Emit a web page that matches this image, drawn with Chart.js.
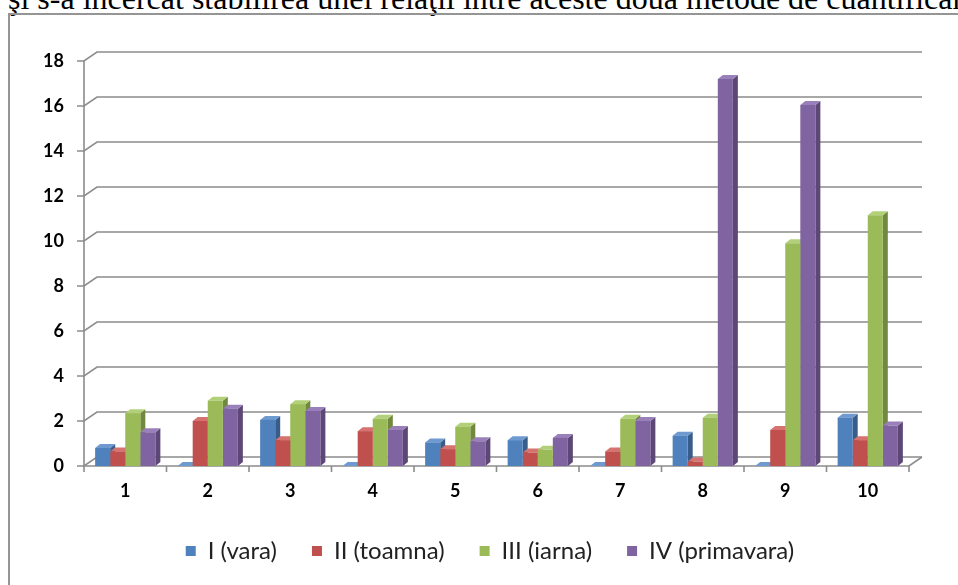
<!DOCTYPE html>
<html>
<head>
<meta charset="utf-8">
<script src="https://cdn.jsdelivr.net/npm/chart.js@4"></script>
<style>
    html, body { margin: 0; padding: 0; background: #fff; overflow: hidden; }
    body { width: 958px; height: 585px; position: relative; }
    #textSus {
        position: absolute; left: 8px; top: -18px; white-space: nowrap;
        font-family: "Liberation Serif", "Times New Roman", serif; font-size: 32px; line-height: 32px; color: #000;
    }
    #cadru {
        position: absolute; left: 8px; top: 13px; width: 1000px; height: 620px;
        border-left: 2px solid #959595; border-top: 2px solid #959595;
    }
    #graficBox { position: absolute; left: 0; top: 0; width: 958px; height: 585px; }
</style>
</head>
<body>
<div id="textSus">şi s-a încercat stabilirea unei relaţii între aceste două metode de cuantificare</div>
<div id="cadru"></div>
<div id="graficBox"><canvas id="graficAnotimpuri" width="958" height="585"></canvas></div>

<script>
    // date
    var categorii = ['1', '2', '3', '4', '5', '6', '7', '8', '9', '10'];
    var numeSerii = ['I (vara)', 'II (toamna)', 'III (iarna)', 'IV (primavara)'];
    var vara = [0.8, 0, 2.05, 0, 1.05, 1.15, 0, 1.35, 0, 2.15];
    var toamna = [0.65, 2.0, 1.15, 1.55, 0.75, 0.6, 0.65, 0.2, 1.6, 1.15];
    var iarna = [2.35, 2.9, 2.75, 2.1, 1.75, 0.72, 2.1, 2.15, 9.9, 11.15];
    var primavara = [1.5, 2.55, 2.45, 1.6, 1.1, 1.25, 2.0, 17.2, 16.05, 1.8];
    var tickuriY = [0, 2, 4, 6, 8, 10, 12, 14, 16, 18];

    var culori = ['#4F81BD', '#C0504D', '#9BBB59', '#8064A2'];
    var culoriLaterale = ['#385D8A', '#8C3836', '#71893F', '#5C4776'];
    var culoriSus = ['#6E9AD0', '#D6726F', '#B2D07A', '#9A80BA'];

    // adancimea 3D
    const perete = { dx: 13, dy: 9 };
    const bara = { dx: 5, dy: 4 };
    const culoareGrila = '#8c8c8c';

    const efect3d = {
        id: 'efect3d',
        afterLayout(chart) {
            // legenda e centrata pe cadru, nu pe canvas
            chart.legend.left = 22;
            chart.legend.right = 958;
        },
        beforeDatasetsDraw(chart) {
            const ctx = chart.ctx;
            const area = chart.chartArea;
            const scalaY = chart.scales.y;
            ctx.save();
            ctx.strokeStyle = culoareGrila;
            ctx.lineWidth = 1.6;

            // grila pe peretele din spate
            tickuriY.forEach(function (v) {
                var y = scalaY.getPixelForValue(v);
                ctx.beginPath();
                ctx.moveTo(area.left - 7, y);
                ctx.lineTo(area.left, y);
                ctx.lineTo(area.left + perete.dx, y - perete.dy);
                ctx.lineTo(area.right + perete.dx, y - perete.dy);
                ctx.stroke();
            });

            // axa verticala si podeaua
            ctx.beginPath();
            ctx.moveTo(area.left, area.top);
            ctx.lineTo(area.left, area.bottom);
            ctx.lineTo(area.right, area.bottom);
            ctx.lineTo(area.right + perete.dx, area.bottom - perete.dy);
            ctx.stroke();

            // liniute pe axa X
            var pas = (area.right - area.left) / categorii.length;
            for (var i = 0; i <= categorii.length; i++) {
                var x = area.left + i * pas;
                ctx.beginPath();
                ctx.moveTo(x, area.bottom);
                ctx.lineTo(x, area.bottom + 6);
                ctx.stroke();
            }

            // fetele laterale si de sus ale barelor
            chart.data.datasets.forEach(function (ds, d) {
                var meta = chart.getDatasetMeta(d);
                meta.data.forEach(function (el) {
                    var p = el.getProps(['x', 'y', 'base', 'width'], true);
                    var st = p.x - p.width / 2;
                    var dr = p.x + p.width / 2;
                    ctx.fillStyle = culoriLaterale[d];
                    ctx.beginPath();
                    ctx.moveTo(dr, p.y);
                    ctx.lineTo(dr + bara.dx, p.y - bara.dy);
                    ctx.lineTo(dr + bara.dx, p.base - bara.dy);
                    ctx.lineTo(dr, p.base);
                    ctx.closePath();
                    ctx.fill();
                    ctx.fillStyle = culoriSus[d];
                    ctx.beginPath();
                    ctx.moveTo(st, p.y);
                    ctx.lineTo(st + bara.dx, p.y - bara.dy);
                    ctx.lineTo(dr + bara.dx, p.y - bara.dy);
                    ctx.lineTo(dr, p.y);
                    ctx.closePath();
                    ctx.fill();
                });
            });
            ctx.restore();
        }
    };

    var seturi = [vara, toamna, iarna, primavara].map(function (valori, i) {
        return {
            label: numeSerii[i],
            data: valori,
            backgroundColor: culori[i],
            borderWidth: 0,
            barPercentage: 1.0,
            categoryPercentage: 0.73
        };
    });

    const config = {
        type: 'bar',
        data: { labels: categorii, datasets: seturi },
        options: {
            responsive: false,
            animation: false,
            layout: { padding: { left: 0, right: 49, top: 61, bottom: 12 } },
            plugins: {
                tooltip: { enabled: false },
                legend: {
                    position: 'bottom',
                    labels: {
                        boxWidth: 10,
                        boxHeight: 10,
                        padding: 35,
                        color: '#222',
                        font: { family: 'Lato', size: 24 }
                    }
                }
            },
            scales: {
                x: {
                    grid: { display: false, drawTicks: false },
                    border: { display: false },
                    ticks: { color: '#000', padding: 14, font: { family: 'Lato', size: 18, weight: 'bold' } },
                    afterFit: function (s) { s.height = 38; }
                },
                y: {
                    min: 0,
                    max: 18,
                    grid: { display: false, drawTicks: false },
                    border: { display: false },
                    ticks: { stepSize: 2, color: '#000', padding: 20, font: { family: 'Lato', size: 18, weight: 'bold' } },
                    afterFit: function (s) { s.width = 84; }
                }
            }
        },
        plugins: [efect3d]
    };

    let graficAnotimpuri = new Chart(
        document.getElementById('graficAnotimpuri'),
        config
    );
</script>
</body>
</html>
